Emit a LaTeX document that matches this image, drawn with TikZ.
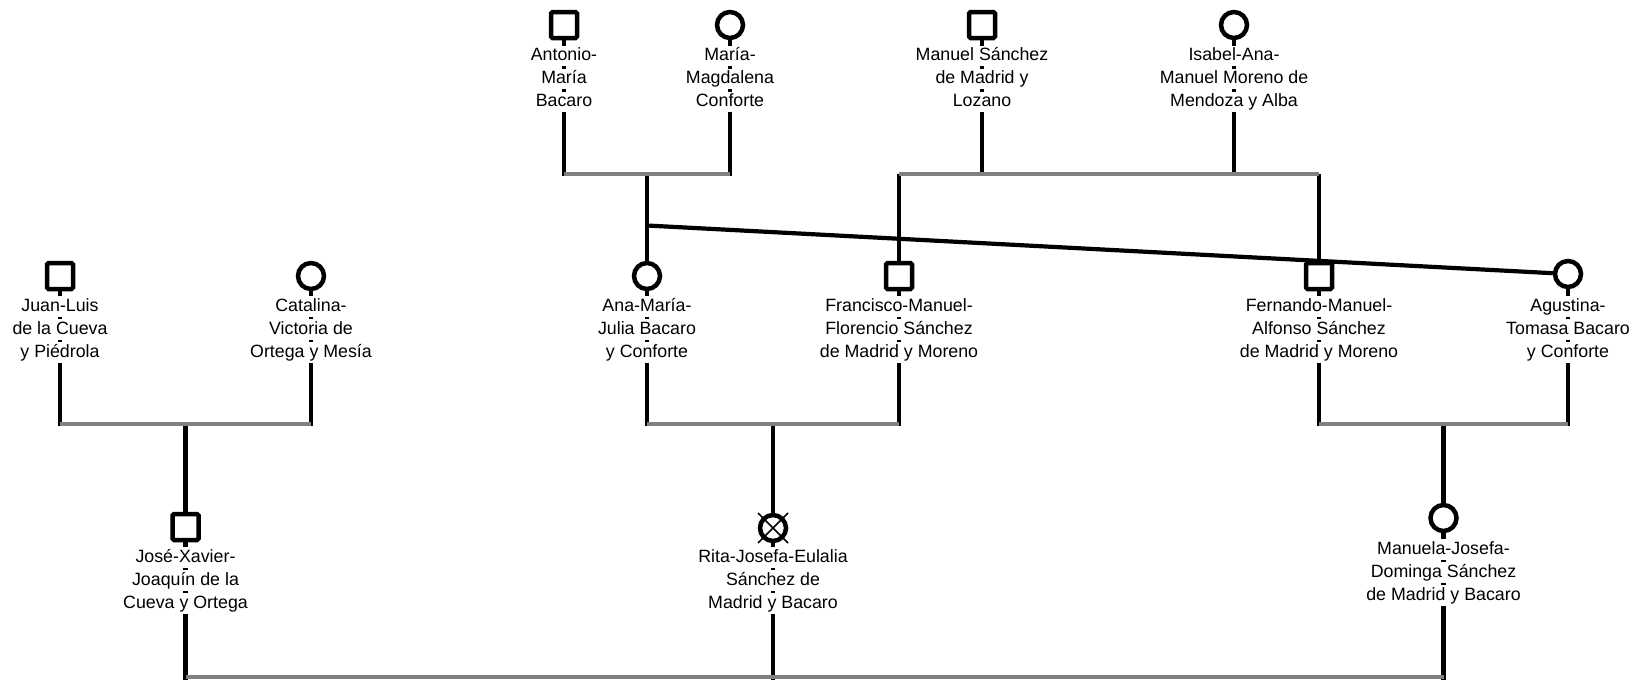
\documentclass[tikz,border=0pt]{standalone}
\usepackage{fontspec}
\setmainfont{Liberation Sans}
\usetikzlibrary{backgrounds}
\definecolor{margray}{RGB}{128,128,128}
\newcommand\pname[6]{%
  \node[nm] (#1-1) at (#2,#3) {#4};
  \node[nm] (#1-2) at (#2,#3+23) {#5};
  \node[nm] (#1-3) at (#2,#3+46) {#6};}
\begin{document}
\begin{tikzpicture}[x=1pt,y=-1pt,
  male/.style={draw,line width=4.5pt,fill=white,rectangle,rounded corners=1.5pt,minimum size=26pt,inner sep=0pt},
  female/.style={draw,line width=4.5pt,fill=white,circle,minimum size=26pt,inner sep=0pt},
  nm/.style={fill=white,inner xsep=0.5pt,inner ysep=1.25pt,text height=13.5pt,text depth=4.5pt,font=\fontsize{17.8pt}{21pt}\selectfont},
  kin/.style={line width=4.2pt,black},
  mar/.style={line width=4.2pt,margray},
  crossline/.style={line width=1.6pt,black}]
\useasboundingbox (0,0) rectangle (1643,680);
% symbols
\node[male]   (antonio)   at (564,25) {};
\node[female] (maria)     at (730,25) {};
\node[male]   (manuel)    at (982,25) {};
\node[female] (isabel)    at (1234,25) {};
\node[male]   (juan)      at (60,276) {};
\node[female] (catalina)  at (311,276) {};
\node[female] (ana)       at (647,276) {};
\node[male]   (francisco) at (899,276) {};
\node[male]   (fernando)  at (1319,276) {};
\node[female] (agustina)  at (1568,274) {};
\node[male]   (jose)      at (185.5,527) {};
\node[female] (rita)      at (773,528) {};
\node[female] (manuela)   at (1443.5,518) {};
\draw[crossline] ([shift={(-15,-15)}]rita.center) -- ([shift={(15,15)}]rita.center);
\draw[crossline] ([shift={(15,-15)}]rita.center) -- ([shift={(-15,15)}]rita.center);
% coordinates on the lines
\coordinate (m1L) at (564,174);
\coordinate (m1R) at (730,174);
\coordinate (m1C) at (647,174);
\coordinate (s2L) at (899,174);
\coordinate (s2R) at (1319,174);
\coordinate (y1) at (0,176);
\coordinate (d1) at (647,225.5);
\coordinate (m3L) at (60,424);
\coordinate (m3R) at (311,424);
\coordinate (m3C) at (185.5,424);
\coordinate (m4L) at (647,424);
\coordinate (m4R) at (899,424);
\coordinate (m4C) at (773,424);
\coordinate (m5L) at (1319,424);
\coordinate (m5R) at (1568,424);
\coordinate (m5C) at (1443.5,424);
\coordinate (y2) at (0,426);
\coordinate (b6L) at (185.5,677);
\coordinate (b6R) at (1443.5,677);
\coordinate (y3) at (0,680);
\begin{scope}[on background layer]
  % black connectors
  \draw[kin] (antonio.south) -- (antonio.south |- y1);
  \draw[kin] (maria.south) -- (maria.south |- y1);
  \draw[kin] (manuel.south) -- (manuel.south |- y1);
  \draw[kin] (isabel.south) -- (isabel.south |- y1);
  \draw[kin] (m1C) -- (ana.north);
  \draw[kin] (s2L) -- (francisco.north);
  \draw[kin] (s2R) -- (fernando.north);
  \draw[kin] (d1) -- (agustina);
  \draw[kin] (juan.south) -- (juan.south |- y2);
  \draw[kin] (catalina.south) -- (catalina.south |- y2);
  \draw[kin] (ana.south) -- (ana.south |- y2);
  \draw[kin] (francisco.south) -- (francisco.south |- y2);
  \draw[kin] (fernando.south) -- (fernando.south |- y2);
  \draw[kin] (agustina.south) -- (agustina.south |- y2);
  \draw[kin] (m3C) -- (jose.north);
  \draw[kin] (m4C) -- (rita.north);
  \draw[kin] (m5C) -- (manuela.north);
  \draw[kin] (jose.south) -- (jose.south |- y3);
  \draw[kin] (rita.south) -- (rita.south |- y3);
  \draw[kin] (manuela.south) -- (manuela.south |- y3);
  % grey lines
  \draw[mar] (m1L) -- (m1R);
  \draw[mar] (s2L) -- (s2R);
  \draw[mar] (m3L) -- (m3R);
  \draw[mar] (m4L) -- (m4R);
  \draw[mar] (m5L) -- (m5R);
  \draw[mar] (b6L) -- (b6R);
\end{scope}
% names
\pname{antoniot}{564}{56}{Antonio-}{María}{Bacaro}
\pname{mariat}{730}{56}{María-}{Magdalena}{Conforte}
\pname{manuelt}{982}{56}{Manuel Sánchez}{de Madrid y}{Lozano}
\pname{isabelt}{1234}{56}{Isabel-Ana-}{Manuel Moreno de}{Mendoza y Alba}
\pname{juant}{60}{306.5}{Juan-Luis}{de la Cueva}{y Piédrola}
\pname{catalinat}{311}{306.5}{Catalina-}{Victoria de}{Ortega y Mesía}
\pname{anat}{647}{306.5}{Ana-María-}{Julia Bacaro}{y Conforte}
\pname{franciscot}{899}{306.5}{Francisco-Manuel-}{Florencio Sánchez}{de Madrid y Moreno}
\pname{fernandot}{1319}{306.5}{Fernando-Manuel-}{Alfonso Sánchez}{de Madrid y Moreno}
\pname{agustinat}{1568}{306.5}{Agustina-}{Tomasa Bacaro}{y Conforte}
\pname{joset}{185.5}{557.5}{José-Xavier-}{Joaquín de la}{Cueva y Ortega}
\pname{ritat}{773}{557.5}{Rita-Josefa-Eulalia}{Sánchez de}{Madrid y Bacaro}
\pname{manuelat}{1443.5}{549.5}{Manuela-Josefa-}{Dominga Sánchez}{de Madrid y Bacaro}
\end{tikzpicture}
\end{document}
